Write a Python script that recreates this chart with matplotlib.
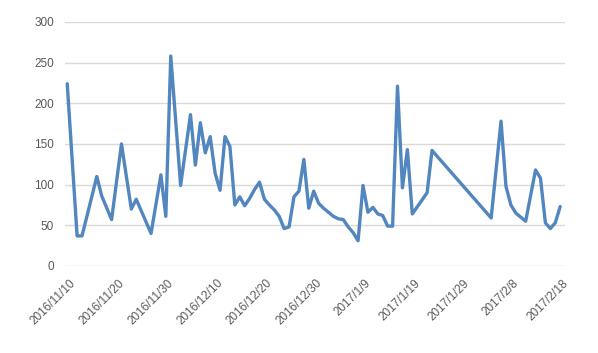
import pandas as pd
import matplotlib.pyplot as plt
import matplotlib.transforms as mtrans

dates = [
    "2016-11-10", "2016-11-12", "2016-11-13", "2016-11-16", "2016-11-17",
    "2016-11-19", "2016-11-21", "2016-11-23", "2016-11-24", "2016-11-27",
    "2016-11-29", "2016-11-30", "2016-12-01", "2016-12-03", "2016-12-05",
    "2016-12-06", "2016-12-07", "2016-12-08", "2016-12-09", "2016-12-10",
    "2016-12-11", "2016-12-12", "2016-12-13", "2016-12-14", "2016-12-15",
    "2016-12-16", "2016-12-17", "2016-12-18", "2016-12-19", "2016-12-20",
    "2016-12-21", "2016-12-22", "2016-12-23", "2016-12-24", "2016-12-25",
    "2016-12-26", "2016-12-27", "2016-12-28", "2016-12-29", "2016-12-30",
    "2016-12-31", "2017-01-01", "2017-01-02", "2017-01-03", "2017-01-04",
    "2017-01-05", "2017-01-06", "2017-01-07", "2017-01-08", "2017-01-09",
    "2017-01-10", "2017-01-11", "2017-01-12", "2017-01-13", "2017-01-14",
    "2017-01-15", "2017-01-16", "2017-01-17", "2017-01-18", "2017-01-19",
    "2017-01-22", "2017-01-23", "2017-02-04", "2017-02-06", "2017-02-07",
    "2017-02-08", "2017-02-09", "2017-02-10", "2017-02-11", "2017-02-13",
    "2017-02-14", "2017-02-15", "2017-02-16", "2017-02-17", "2017-02-18",
]
values = [
    224, 37, 37, 110, 86,
    57, 150, 70, 82, 40,
    112, 61, 258, 99, 186,
    124, 176, 139, 159, 114,
    93, 159, 147, 75, 85,
    74, 83, 94, 103, 82,
    75, 69, 61, 46, 48,
    85, 92, 131, 71, 92,
    77, 71, 66, 61, 58,
    57, 48, 41, 31, 99,
    66, 72, 64, 62, 49,
    49, 221, 96, 143, 64,
    90, 142, 59, 178, 98,
    75, 65, 60, 55, 118,
    108, 53, 46, 53, 73,
]
tick_dates = pd.date_range("2016-11-10", "2017-02-18", freq="10D")
yticks = [0, 50, 100, 150, 200, 250, 300]

x = pd.to_datetime(dates)

fig = plt.figure(figsize=(5.98, 3.53), dpi=100)
ax = fig.add_axes([0.109, 0.2465, 0.836, 0.6915])

ax.plot(x, values, color="#5186BF", linewidth=2.4, solid_joinstyle="round",
        solid_capstyle="round", zorder=3)

ax.set_ylim(0, 300)
ax.set_yticks(yticks)
ax.set_xlim(tick_dates[0] - pd.Timedelta(hours=10), tick_dates[-1] + pd.Timedelta(hours=24))
ax.set_xticks(tick_dates)
ax.set_xticklabels([f"{d.year}/{d.month}/{d.day}" for d in tick_dates],
                   rotation=45, ha="right", va="center", rotation_mode="anchor")

ax.grid(axis="y", color="#D9D9D9", linewidth=1.0)
ax.set_axisbelow(True)
for s in ax.spines.values():
    s.set_visible(False)
ax.tick_params(axis="both", length=0, labelsize=8.5, labelcolor="#595959")
ax.tick_params(axis="y", pad=8)
ax.tick_params(axis="x", pad=11)
for lab in ax.get_xticklabels() + ax.get_yticklabels():
    lab.set_fontfamily("Liberation Sans")

offset = mtrans.ScaledTranslation(6 / 100, 0, fig.dpi_scale_trans)
for lab in ax.get_xticklabels():
    lab.set_transform(lab.get_transform() + offset)

fig.savefig("out.png", dpi=100)
